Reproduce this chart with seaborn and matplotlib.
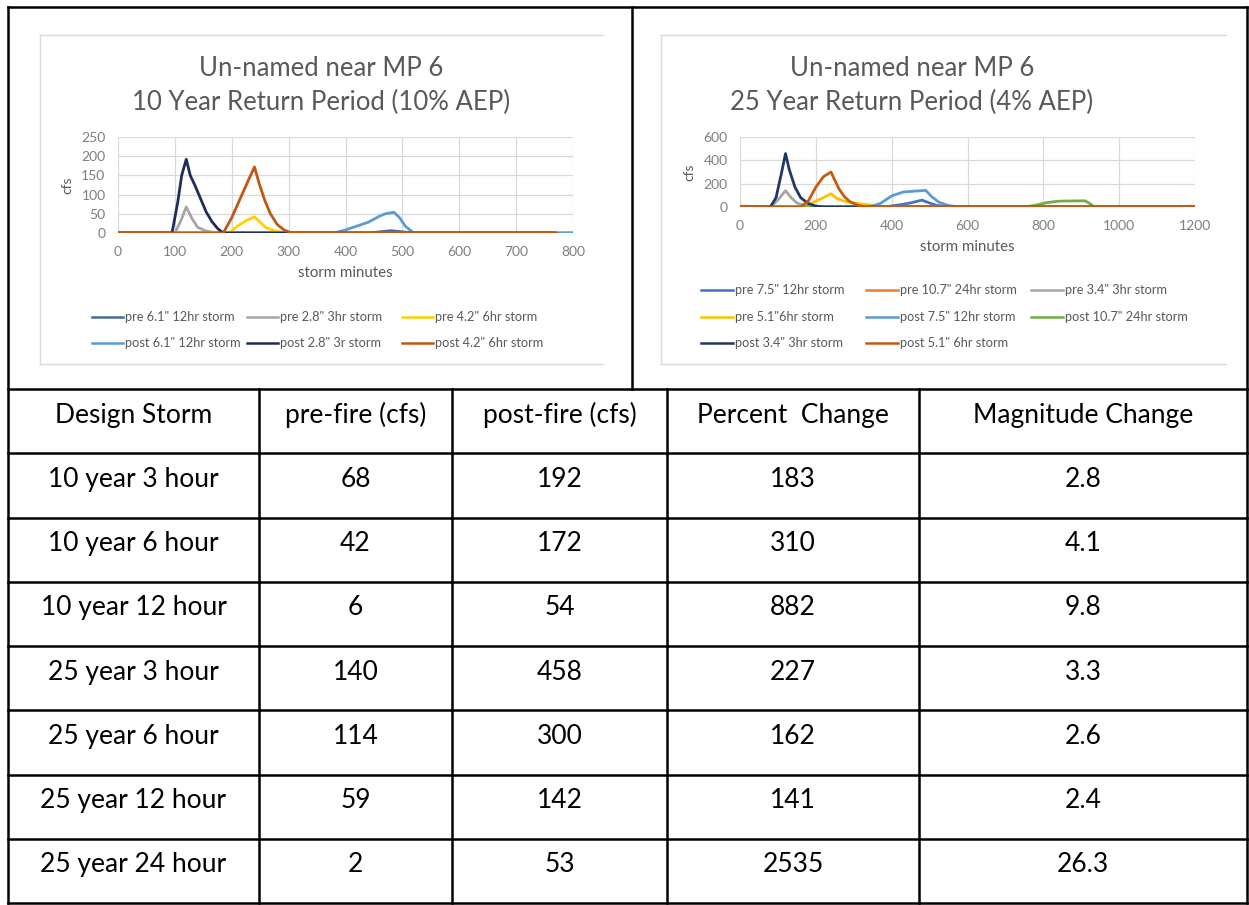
import pandas as pd
import seaborn as sns
import matplotlib.pyplot as plt
from matplotlib.lines import Line2D

# --- DATA: hydrographs ---
# 10 year return period (left chart)
t10_pre_12hr = [0, 440, 460, 480, 500, 520, 800]
q10_pre_12hr = [0, 0, 3, 6, 3, 0, 0]
t10_pre_3hr = [0, 100, 110, 120, 130, 140, 155, 175, 770]
q10_pre_3hr = [0, 0, 30, 68, 38, 15, 5, 0, 0]
t10_pre_6hr = [0, 195, 210, 225, 240, 250, 260, 275, 290, 770]
q10_pre_6hr = [0, 0, 18, 32, 42, 28, 14, 6, 0, 0]
t10_post_12hr = [0, 380, 400, 420, 440, 460, 470, 485, 495, 505, 520, 800]
q10_post_12hr = [0, 0, 8, 18, 28, 44, 50, 54, 40, 18, 0, 0]
t10_post_3hr = [0, 95, 105, 112, 120, 127, 135, 145, 155, 165, 175, 185, 770]
q10_post_3hr = [0, 0, 80, 150, 192, 150, 125, 90, 55, 30, 12, 0, 0]
t10_post_6hr = [0, 185, 200, 215, 230, 240, 248, 258, 268, 280, 292, 305, 770]
q10_post_6hr = [0, 0, 40, 90, 140, 172, 130, 85, 50, 22, 8, 0, 0]

labels10 = ['pre 6.1" 12hr storm', 'pre 2.8" 3hr storm', 'pre 4.2" 6hr storm',
            'post 6.1" 12hr storm', 'post 2.8" 3r storm', 'post 4.2" 6hr storm']
colors10 = ['#44699B', '#A5A5A5', '#FFD000', '#5B9BD5', '#1F2D5C', '#C0580F']

# 25 year return period (right chart)
t25_pre_12hr = [0, 380, 420, 450, 480, 495, 520, 560, 1200]
q25_pre_12hr = [0, 0, 18, 35, 59, 40, 12, 0, 0]
t25_pre_24hr = [0, 750, 800, 860, 910, 930, 1200]
q25_pre_24hr = [0, 0, 1, 2, 2, 0, 0]
t25_pre_3hr = [0, 80, 100, 120, 135, 150, 170, 190, 1200]
q25_pre_3hr = [0, 0, 60, 140, 80, 35, 10, 0, 0]
t25_pre_6hr = [0, 170, 200, 220, 240, 255, 270, 300, 330, 360, 390, 1200]
q25_pre_6hr = [0, 0, 50, 80, 114, 75, 55, 35, 22, 10, 0, 0]
t25_post_12hr = [0, 340, 370, 400, 430, 460, 490, 505, 525, 550, 580, 1200]
q25_post_12hr = [0, 0, 30, 95, 128, 136, 142, 90, 40, 12, 0, 0]
t25_post_24hr = [0, 750, 780, 810, 840, 880, 910, 920, 935, 1200]
q25_post_24hr = [0, 0, 15, 38, 50, 52, 53, 35, 0, 0]
t25_post_3hr = [0, 80, 95, 110, 120, 130, 145, 160, 180, 200, 220, 1200]
q25_post_3hr = [0, 0, 80, 300, 458, 320, 170, 80, 30, 8, 0, 0]
t25_post_6hr = [0, 160, 180, 200, 220, 240, 250, 262, 275, 290, 310, 330, 1200]
q25_post_6hr = [0, 0, 50, 170, 260, 300, 230, 150, 90, 45, 15, 0, 0]

labels25 = ['pre 7.5" 12hr storm', 'pre 10.7" 24hr storm', 'pre 3.4" 3hr storm',
            'pre 5.1"6hr storm', 'post 7.5" 12hr storm', 'post 10.7" 24hr storm',
            'post 3.4" 3hr storm', 'post 5.1" 6hr storm']
colors25 = ['#4472C4', '#ED7D31', '#A5A5A5', '#FFC000', '#5B9BD5', '#70AD47',
            '#203864', '#C55A11']

# --- DATA: summary table ---
headers = ['Design Storm', 'pre-fire (cfs)', 'post-fire (cfs)', 'Percent  Change', 'Magnitude Change']
design_storm = ['10 year 3 hour', '10 year 6 hour', '10 year 12 hour', '25 year 3 hour',
                '25 year 6 hour', '25 year 12 hour', '25 year 24 hour']
pre_fire = [68, 42, 6, 140, 114, 59, 2]
post_fire = [192, 172, 54, 458, 300, 142, 53]
pct_change = [183, 310, 882, 227, 162, 141, 2535]
mag_change = [2.8, 4.1, 9.8, 3.3, 2.6, 2.4, 26.3]

# --- LAYOUT (pixel coords of the 1249x905 page) ---
W, H = 1249, 905
GRID = '#D9D9D9'
TXT = '#595959'


def fx(x):
    return x / W


def fy(y):
    return 1 - y / H


def long_frame(labels, times, values):
    parts = []
    for lab, t, q in zip(labels, times, values):
        parts.append(pd.DataFrame({'minutes': t, 'cfs': q, 'series': lab}))
    return pd.concat(parts, ignore_index=True)


def fig_line(fig, x0, y0, x1, y1, color='black', lw=1.8):
    fig.add_artist(Line2D([fx(x0), fx(x1)], [fy(y0), fy(y1)], transform=fig.transFigure,
                          color=color, lw=lw, solid_capstyle='projecting'))


def draw_chart(fig, df, labels, colors, box, plot, xmax, xstep, ymax, ystep,
               title_x, legend_rows, legend_cols, seg):
    # light gray frame of the pasted chart image (right edge is cut off)
    bx0, by0, bx1, by1 = box
    fig_line(fig, bx0, by0, bx1, by0, GRID, 1.0)
    fig_line(fig, bx0, by0, bx0, by1, GRID, 1.0)
    fig_line(fig, bx0, by1, bx1, by1, GRID, 1.0)

    fig.text(fx(title_x), fy(68), 'Un-named near MP 6', ha='center', va='center',
             fontsize=18.5, color=TXT)

    px0, py0, px1, py1 = plot
    ax = fig.add_axes([fx(px0), fy(py1), (px1 - px0) / W, (py1 - py0) / H])
    sns.lineplot(data=df, x='minutes', y='cfs', hue='series', hue_order=labels,
                 palette=dict(zip(labels, colors)), estimator=None, sort=False,
                 legend=False, linewidth=2.0, ax=ax)
    ax.set_xlim(0, xmax)
    ax.set_ylim(0, ymax)
    ax.set_xticks(range(0, xmax + 1, xstep))
    ax.set_yticks(range(0, ymax + 1, ystep))
    ax.grid(True, color=GRID, lw=0.9)
    ax.set_axisbelow(True)
    for s in ax.spines.values():
        s.set_visible(False)
    ax.tick_params(length=0, labelsize=10, labelcolor='#7F7F7F', pad=9)
    ax.set_xlabel('storm minutes', fontsize=10.8, color=TXT, labelpad=6)
    ax.set_ylabel('cfs', fontsize=10, color=TXT, labelpad=6)

    # Excel style legend, filled row by row
    for i, (lab, col) in enumerate(zip(labels, colors)):
        r, c = divmod(i, 3)
        y = legend_rows[r]
        x = legend_cols[c]
        fig_line(fig, x, y, x + seg, y, col, 1.8)
        fig.text(fx(x + seg + 2), fy(y), lab, ha='left', va='center', fontsize=9.2, color=TXT)
    return ax


sns.set_theme(style='white')
plt.rcParams['font.family'] = ['Lato', 'DejaVu Sans']

fig = plt.figure(figsize=(W / 100, H / 100), dpi=100)

df10 = long_frame(labels10,
                  [t10_pre_12hr, t10_pre_3hr, t10_pre_6hr, t10_post_12hr, t10_post_3hr, t10_post_6hr],
                  [q10_pre_12hr, q10_pre_3hr, q10_pre_6hr, q10_post_12hr, q10_post_3hr, q10_post_6hr])
df25 = long_frame(labels25,
                  [t25_pre_12hr, t25_pre_24hr, t25_pre_3hr, t25_pre_6hr,
                   t25_post_12hr, t25_post_24hr, t25_post_3hr, t25_post_6hr],
                  [q25_pre_12hr, q25_pre_24hr, q25_pre_3hr, q25_pre_6hr,
                   q25_post_12hr, q25_post_24hr, q25_post_3hr, q25_post_6hr])

draw_chart(fig, df10, labels10, colors10, box=(40, 35, 603, 364), plot=(118, 137, 573, 233),
           xmax=800, xstep=100, ymax=250, ystep=50, title_x=321,
           legend_rows=[317, 343], legend_cols=[92, 247, 402], seg=31)
fig.text(fx(321), fy(102), '10 Year Return Period (10% AEP)', ha='center', va='center',
         fontsize=18.5, color=TXT)

draw_chart(fig, df25, labels25, colors25, box=(661, 35, 1226, 364), plot=(740, 137, 1195, 207),
           xmax=1200, xstep=200, ymax=600, ystep=200, title_x=912,
           legend_rows=[290, 317, 343], legend_cols=[701, 866, 1031], seg=32)
fig.text(fx(912), fy(102), '25 Year Return Period (4% AEP)', ha='center', va='center',
         fontsize=18.5, color=TXT)

# --- TABLE ---
left, right, top, bottom = 8, 1247, 7, 903
row0 = 389
row_h = (bottom - row0) / 8
col_x = [left, 259, 452, 667, 919, right]

fig_line(fig, left, top, right, top)
fig_line(fig, left, top, left, bottom)
fig_line(fig, right, top, right, bottom)
fig_line(fig, 632, top, 632, row0)
for i in range(9):
    y = row0 + i * row_h
    fig_line(fig, left, y, right, y)
for x in col_x[1:-1]:
    fig_line(fig, x, row0, x, bottom)

centers = [(a + b) / 2 for a, b in zip(col_x[:-1], col_x[1:])]
rows = [headers] + [[d, str(a), str(b), str(c), f'{m:.1f}']
                    for d, a, b, c, m in zip(design_storm, pre_fire, post_fire, pct_change, mag_change)]
for r, cells in enumerate(rows):
    y = row0 + r * row_h + 26
    for cx, txt in zip(centers, cells):
        fig.text(fx(cx), fy(y), txt, ha='center', va='center', fontsize=19, color='black')

fig.savefig('out.png', dpi=100)
